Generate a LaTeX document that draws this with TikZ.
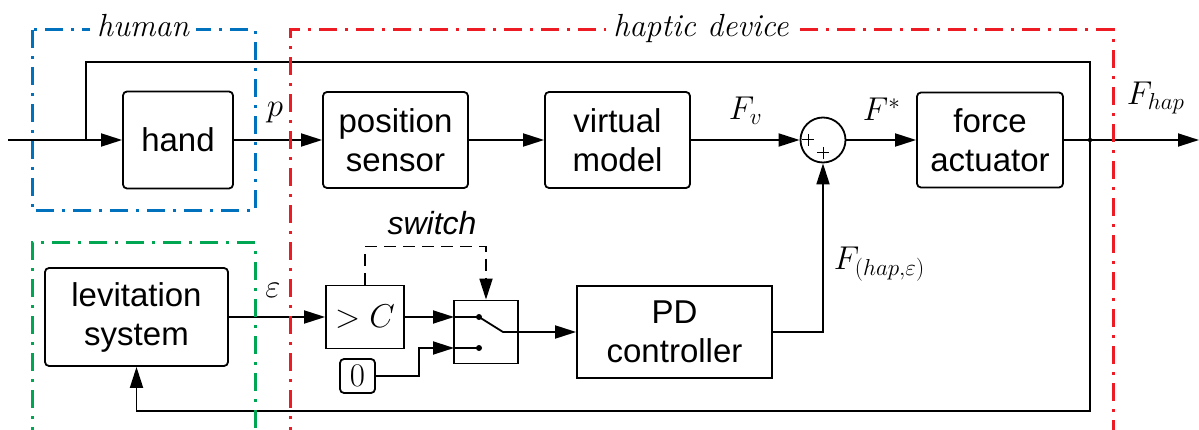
\RequirePackage{fix-cm}
\documentclass[tikz,border=0pt]{standalone}
\usepackage{fontspec}
\setsansfont{Liberation Sans}
\usetikzlibrary{arrows.meta,calc}
\definecolor{hblue}{RGB}{0,114,189}
\definecolor{hred}{RGB}{237,28,36}
\definecolor{hgreen}{RGB}{0,166,81}
\begin{document}
\begin{tikzpicture}[x=1pt,y=-1pt,
  line width=1.8pt,
  >={Triangle[length=21pt,width=13pt]},
  blk/.style={draw, line width=1.8pt, rounded corners=4pt, inner sep=0pt, align=center, font=\sffamily\fontsize{33}{39}\selectfont},
  sq/.style={blk, rounded corners=0pt},
  grp/.style={line width=3pt, dash pattern=on 18pt off 8pt on 3pt off 8pt},
  lab/.style={font=\fontsize{33}{38}\selectfont, inner sep=0pt},
  glab/.style={font=\itshape\fontsize{32}{38}\selectfont, fill=white, inner xsep=7pt, inner ysep=2pt},
  swdash/.style={line width=1.8pt, dash pattern=on 12pt off 7pt},
]
\useasboundingbox (0,0) rectangle (1199,430);

% blocks
\node[blk, minimum width=110pt, minimum height=97pt] (hand) at (178,140) {hand};
\node[blk, minimum width=145pt, minimum height=96pt] (pos) at (395.5,140) {position\\sensor};
\node[blk, minimum width=145pt, minimum height=96pt] (vm) at (617.5,140) {virtual\\model};
\node[draw, circle, minimum size=45pt, inner sep=0pt] (sum) at (823,140) {};
\node[blk, minimum width=146pt, minimum height=95pt] (fa) at (990,140) {force\\actuator};
\node[blk, minimum width=183pt, minimum height=98pt] (lev) at (136.5,317) {levitation\\system};
\node[sq, minimum width=78pt, minimum height=63pt] (gtc) at (365,317) {$>C$};
\node[sq, minimum width=64pt, minimum height=63pt] (sw) at (486,332) {};
\node[blk, minimum width=35pt, minimum height=34pt] (zero) at (357.5,376) {$0$};
\node[sq, minimum width=195pt, minimum height=92pt] (pd) at (674.5,332) {PD\\controller};

% plus signs in the sum
\draw[line width=1pt] ($(sum.center)+(-15,0)$) +(-6,0) -- +(6,0) +(0,-6) -- +(0,6);
\draw[line width=1pt] ($(sum.center)+(0,13)$) +(-6,0) -- +(6,0) +(0,-6) -- +(0,6);

% coordinates
\coordinate (in) at (8,140);
\coordinate (br) at (86,140);
\coordinate (tr) at (1090,62);
\coordinate (jn) at (1090,140);
\coordinate (bl) at (1090,411);
\coordinate (out) at (1199,140);
\coordinate (s1) at (454,317);
\coordinate (s2) at (454,348);
\coordinate (d1) at (479,317);
\coordinate (d2) at (479,348);
\coordinate (lv) at (503,332);

% connectors
\draw[->] (in) -- (hand);
\draw[->] (br) |- (tr) -- (bl) -| (lev.south);
\draw[->] (hand) -- (pos);
\draw[->] (pos) -- (vm);
\draw[->] (vm) -- (sum);
\draw[->] (sum) -- (fa);
\draw[->] (fa) -- (out);
\fill (jn) circle (2.2pt);
\draw[->] (lev) -- (gtc);
\draw[->] (gtc.east) -- (s1);
\draw[->] (zero.east) -- ++(43,0) |- (s2);
\draw (s1) -- (d1) -- (lv) -- (lv -| sw.east);
\draw (s2) -- (d2);
\fill (d1) circle (3pt);
\fill (d2) circle (3pt);
\draw[->] (sw) -- (pd);
\draw[->] (pd.east) -| (sum.south);
\draw[->, swdash] (gtc.north) -- ++(0,-38) -| (sw.north);

% labels
\node[lab, anchor=base] at (275,117) {$p$};
\node[lab, anchor=base west] at (728,120) {$F_v$};
\node[lab, anchor=base west] at (862,121) {$F^*$};
\node[lab, anchor=base west] at (1126,105) {$F_{hap}$};
\node[lab, anchor=base west] at (833,270) {$F_{(hap,\varepsilon)}$};
\node[lab, anchor=base] at (273,298) {$\varepsilon$};
\node[font=\sffamily\itshape\fontsize{32}{38}\selectfont, anchor=base, inner sep=0pt] at (432,235) {switch};

% groups
\draw[grp, hblue] (32,30) rectangle (255,211);
\draw[grp, hred] (290,445) -- (290,30) -- (1113,30) -- (1113,445);
\draw[grp, hgreen] (32,445) -- (32,243) -- (255,243) -- (255,445);
\node[glab, anchor=base] at (143,37) {human};
\node[glab, anchor=base] at (701,37) {haptic device};
\end{tikzpicture}
\end{document}
